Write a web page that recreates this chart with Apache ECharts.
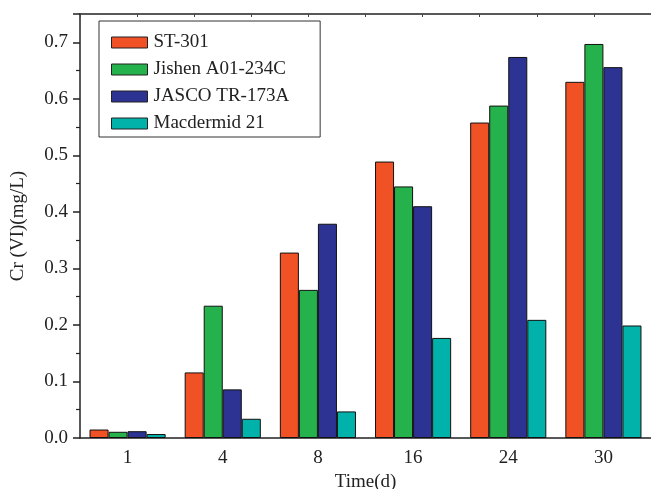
<!DOCTYPE html>
<html>
<head>
<meta charset="utf-8">
<script src="https://cdn.jsdelivr.net/npm/echarts@6/dist/echarts.min.js"></script>
<style>html,body{margin:0;padding:0;background:#fff}#c{width:651px;height:489px}</style>
</head>
<body>
<div id="c"></div>
<script>
var categories = ['1', '4', '8', '16', '24', '30'];
var seriesNames = ['ST-301', 'Jishen A01-234C', 'JASCO TR-173A', 'Macdermid 21'];
var st301 = [0.015, 0.116, 0.328, 0.489, 0.558, 0.630];
var jishen = [0.011, 0.234, 0.262, 0.445, 0.588, 0.697];
var jasco = [0.012, 0.086, 0.379, 0.410, 0.674, 0.656];
var macdermid = [0.007, 0.034, 0.047, 0.177, 0.209, 0.199];
var colors = ['#F05125', '#25B24C', '#2D3393', '#00B2A9'];

var font = 'Liberation Serif, Times New Roman, serif';
var fs = 19;
var values = [st301, jishen, jasco, macdermid];
var chart = echarts.init(document.getElementById('c'));
chart.setOption({
  animation: false,
  color: colors,
  textStyle: { fontFamily: font },
  grid: { left: 80, right: 0, top: 14, bottom: 51, containLabel: false, outerBoundsMode: 'none' },
  legend: {
    orient: 'vertical',
    left: 99, top: 21,
    data: seriesNames,
    itemWidth: 36, itemHeight: 11, itemGap: 8,
    padding: [12, 31, 4, 12],
    borderColor: '#333', borderWidth: 1,
    icon: 'rect',
    itemStyle: { borderColor: '#222', borderWidth: 1 },
    textStyle: { fontFamily: font, fontSize: fs, color: '#222', padding: [0, 0, 0, 1] }
  },
  xAxis: [{
    type: 'category',
    data: categories,
    name: 'Time(d)',
    nameLocation: 'middle',
    nameGap: 32,
    nameTextStyle: { fontFamily: font, fontSize: fs, color: '#222' },
    axisLine: { lineStyle: { color: '#222', width: 1.5 } },
    axisTick: { inside: true, length: 2, lineStyle: { color: '#444' } },
    axisLabel: { fontFamily: font, fontSize: fs, color: '#222', margin: 11 }
  }, {
    type: 'value',
    position: 'top',
    min: 0, max: 10, interval: 1,
    axisLine: { show: true, lineStyle: { color: '#222', width: 1.5 } },
    axisTick: { show: true, inside: true, length: 3, lineStyle: { color: '#444' } },
    axisLabel: { show: false },
    splitLine: { show: false }
  }],
  yAxis: {
    type: 'value',
    min: 0, max: 0.75, interval: 0.1,
    name: 'Cr (VI)(mg/L)',
    nameLocation: 'middle',
    nameGap: 52,
    nameTextStyle: { fontFamily: font, fontSize: fs, color: '#222' },
    axisLine: { show: true, lineStyle: { color: '#222', width: 1.5 } },
    axisTick: { show: true, length: 7, lineStyle: { color: '#222', width: 1.5 } },
    minorTick: { show: true, splitNumber: 2, length: 4, lineStyle: { color: '#222', width: 1.2 } },
    splitLine: { show: false },
    axisLabel: {
      fontFamily: font, fontSize: fs, color: '#222', margin: 12,
      formatter: function (v) { return v > 0.71 ? '' : v.toFixed(1); }
    }
  },
  series: values.map(function (d, i) {
    return {
      name: seriesNames[i],
      type: 'bar',
      data: d,
      xAxisIndex: 0,
      barGap: '0%',
      barCategoryGap: '20%',
      itemStyle: { color: colors[i], borderColor: '#111', borderWidth: 1 }
    };
  })
});
</script>
</body>
</html>
